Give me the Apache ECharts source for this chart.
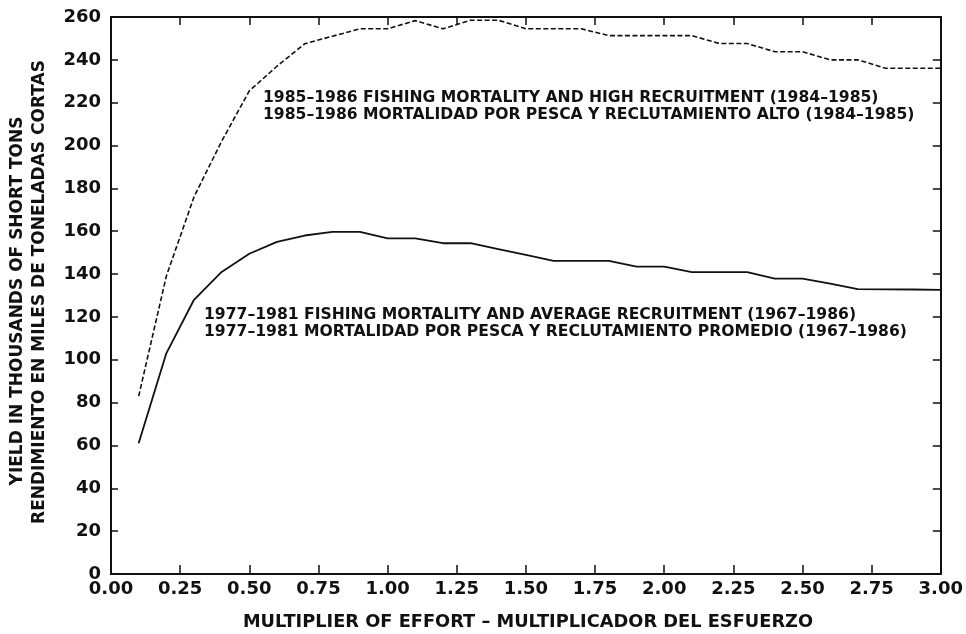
<!DOCTYPE html>
<html>
<head>
<meta charset="utf-8">
<script src="https://cdn.jsdelivr.net/npm/echarts@6/dist/echarts.min.js"></script>
<style>
  html, body { margin: 0; padding: 0; background: #ffffff; }
  #chart { width: 966px; height: 634px; }
</style>
</head>
<body>
<div id="chart"></div>
<script>
// Multiplier of fishing effort
const effort = [0.1, 0.2, 0.3, 0.4, 0.5, 0.6, 0.7, 0.8, 0.9, 1.0,
                1.1, 1.2, 1.3, 1.4, 1.5, 1.6, 1.7, 1.8, 1.9, 2.0,
                2.1, 2.2, 2.3, 2.4, 2.5, 2.6, 2.7, 2.8, 2.9, 3.0];

// Yield (thousands of short tons): 1985-1986 F, high recruitment (1984-1985)
const yieldHigh = [83, 139, 176, 202, 225.5, 237, 247.5, 251, 254.5, 254.5,
                   258.3, 254.5, 258.5, 258.5, 254.5, 254.5, 254.5, 251.3, 251.3, 251.3,
                   251.3, 247.6, 247.6, 243.8, 243.8, 240, 240, 236.1, 236.1, 236.1];

// Yield (thousands of short tons): 1977-1981 F, average recruitment (1967-1986)
const yieldAvg = [61, 103, 128, 141, 149.5, 155, 158, 159.7, 159.7, 156.7,
                  156.7, 154.4, 154.4, 151.7, 149, 146.2, 146.2, 146.2, 143.5, 143.5,
                  140.9, 140.9, 140.9, 137.9, 137.9, 135.5, 133, 132.9, 132.8, 132.6];

const xTickValues = [0, 0.25, 0.5, 0.75, 1, 1.25, 1.5, 1.75, 2, 2.25, 2.5, 2.75, 3];
const yTickValues = [0, 20, 40, 60, 80, 100, 120, 140, 160, 180, 200, 220, 240, 260];

const xTitle = 'MULTIPLIER OF EFFORT \u2013 MULTIPLICADOR DEL ESFUERZO';
const yTitleEn = 'YIELD IN THOUSANDS OF SHORT TONS';
const yTitleEs = 'RENDIMIENTO EN MILES DE TONELADAS CORTAS';
const noteHigh = [
  '1985\u20131986 FISHING MORTALITY AND HIGH RECRUITMENT (1984\u20131985)',
  '1985\u20131986 MORTALIDAD POR PESCA Y RECLUTAMIENTO ALTO (1984\u20131985)'
];
const noteAvg = [
  '1977\u20131981 FISHING MORTALITY AND AVERAGE RECRUITMENT (1967\u20131986)',
  '1977\u20131981 MORTALIDAD POR PESCA Y RECLUTAMIENTO PROMEDIO (1967\u20131986)'
];

const FONT = 'DejaVu Sans';
const INK = '#111111';
const font = (px) => 'bold ' + px + 'px "' + FONT + '"';

const chart = echarts.init(document.getElementById('chart'), null, { renderer: 'canvas' });

const lineOf = (ys) => effort.map((x, i) => [x, ys[i]]);

const baseAxis = {
  type: 'value',
  splitLine: { show: false },
  axisLine: { show: true, onZero: false, lineStyle: { color: INK, width: 2 } }
};

const xMin = xTickValues[0], xMax = xTickValues[xTickValues.length - 1];
const yMin = yTickValues[0], yMax = yTickValues[yTickValues.length - 1];
const xStep = xTickValues[1] - xTickValues[0];
const yStep = yTickValues[1] - yTickValues[0];

chart.setOption({
  backgroundColor: '#ffffff',
  animation: false,
  grid: { left: 111, right: 23, top: 17, bottom: 60, containLabel: false },
  xAxis: [
    Object.assign({}, baseAxis, {
      position: 'bottom', min: xMin, max: xMax, interval: xStep,
      axisTick: { show: true, inside: true, length: 9, lineStyle: { color: INK, width: 1.5 } },
      axisLabel: {
        color: INK, fontFamily: FONT, fontWeight: 'bold', fontSize: 18, margin: 6,
        formatter: (v) => v.toFixed(2)
      }
    }),
    Object.assign({}, baseAxis, {
      position: 'top', min: xMin, max: xMax, interval: xStep,
      axisTick: { show: true, inside: true, length: 8, lineStyle: { color: INK, width: 1.5 } },
      axisLabel: { show: false }
    })
  ],
  yAxis: [
    Object.assign({}, baseAxis, {
      position: 'left', min: yMin, max: yMax, interval: yStep,
      axisTick: { show: true, inside: true, length: 7, lineStyle: { color: INK, width: 1.5 } },
      axisLabel: { color: INK, fontFamily: FONT, fontWeight: 'bold', fontSize: 18, margin: 10 }
    }),
    Object.assign({}, baseAxis, {
      position: 'right', min: yMin, max: yMax, interval: yStep,
      axisTick: { show: true, inside: true, length: 8, lineStyle: { color: INK, width: 1.5 } },
      axisLabel: { show: false }
    })
  ],
  series: [
    {
      name: 'High recruitment', type: 'line', xAxisIndex: 0, yAxisIndex: 0,
      data: lineOf(yieldHigh), showSymbol: false, smooth: false,
      lineStyle: { color: INK, width: 1.6, type: [5, 2.5] }
    },
    {
      name: 'Average recruitment', type: 'line', xAxisIndex: 0, yAxisIndex: 0,
      data: lineOf(yieldAvg), showSymbol: false, smooth: false,
      lineStyle: { color: INK, width: 1.8, type: 'solid' }
    }
  ],
  graphic: [
    {
      type: 'text', x: 528, y: 622,
      style: { text: xTitle, fill: INK, font: font(17.8), align: 'center', verticalAlign: 'middle' }
    },
    {
      type: 'text', x: 18, y: 301, rotation: Math.PI / 2,
      style: { text: yTitleEn, fill: INK, font: font(17), align: 'center', verticalAlign: 'middle' }
    },
    {
      type: 'text', x: 40, y: 292, rotation: Math.PI / 2,
      style: { text: yTitleEs, fill: INK, font: font(17), align: 'center', verticalAlign: 'middle' }
    },
    {
      type: 'text', x: 263, y: 98,
      style: { text: noteHigh[0], fill: INK, font: font(15.6), align: 'left', verticalAlign: 'middle' }
    },
    {
      type: 'text', x: 263, y: 115,
      style: { text: noteHigh[1], fill: INK, font: font(15.6), align: 'left', verticalAlign: 'middle' }
    },
    {
      type: 'text', x: 204, y: 315,
      style: { text: noteAvg[0], fill: INK, font: font(15.6), align: 'left', verticalAlign: 'middle' }
    },
    {
      type: 'text', x: 204, y: 332,
      style: { text: noteAvg[1], fill: INK, font: font(15.6), align: 'left', verticalAlign: 'middle' }
    }
  ]
});
</script>
</body>
</html>
